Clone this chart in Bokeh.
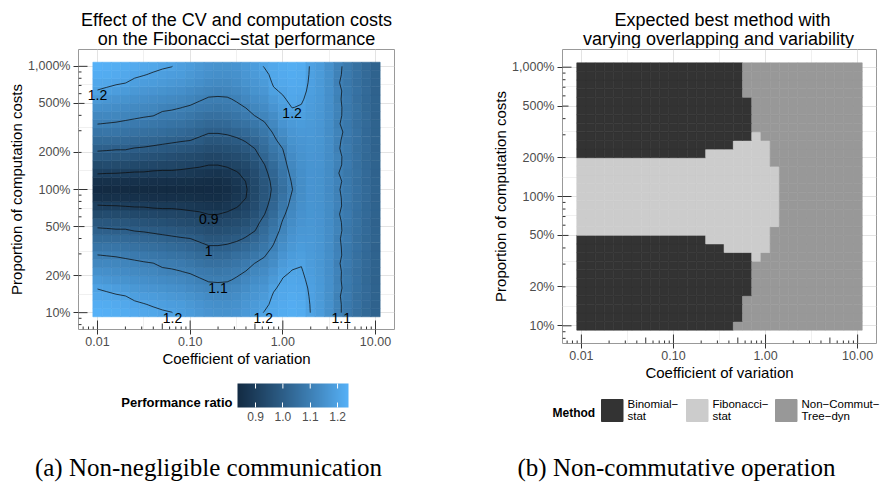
import numpy as np
import contourpy
from bokeh.plotting import figure
from bokeh.models import (Range1d, FixedTicker, NumeralTickFormatter, LinearColorMapper,
                          CategoricalColorMapper, ColorBar, ColumnDataSource, Spacer)
from bokeh.layouts import column, row
from bokeh.transform import transform
from bokeh.core.properties import value
from bokeh.embed import file_html
from bokeh.resources import INLINE

# ---------------- data ----------------
cv_log10 = [-2.0, -1.9, -1.8, -1.7, -1.6, -1.5, -1.4, -1.3, -1.2, -1.1, -1.0, -0.9, -0.8, -0.7,
            -0.6, -0.5, -0.4, -0.3, -0.2, -0.1, 0.0, 0.1, 0.2, 0.3, 0.4, 0.5, 0.6, 0.7, 0.8, 0.9, 1.0]
cost_log10 = [-1.0, -0.9333, -0.8667, -0.8, -0.7333, -0.6667, -0.6, -0.5333, -0.4667, -0.4,
              -0.3333, -0.2667, -0.2, -0.1333, -0.0667, 0.0, 0.0667, 0.1333, 0.2, 0.2667, 0.3333,
              0.4, 0.4667, 0.5333, 0.6, 0.6667, 0.7333, 0.8, 0.8667, 0.9333, 1.0]

# performance ratio, rows from 10% (bottom) to 1000% (top), columns CV 0.01 -> 10
ratio_rows = [
    [1.240, 1.235, 1.230, 1.225, 1.220, 1.215, 1.210, 1.205, 1.201, 1.190, 1.180, 1.170, 1.160, 1.155, 1.155, 1.160, 1.172, 1.185, 1.202, 1.215, 1.225, 1.230, 1.225, 1.199, 1.180, 1.150, 1.108, 1.082, 1.056, 1.035, 1.015],
    [1.228, 1.225, 1.220, 1.215, 1.208, 1.202, 1.196, 1.190, 1.185, 1.180, 1.170, 1.160, 1.150, 1.145, 1.145, 1.150, 1.165, 1.175, 1.190, 1.210, 1.220, 1.226, 1.222, 1.198, 1.178, 1.150, 1.109, 1.080, 1.059, 1.034, 1.012],
    [1.215, 1.210, 1.205, 1.201, 1.190, 1.185, 1.180, 1.175, 1.170, 1.165, 1.155, 1.145, 1.135, 1.130, 1.130, 1.140, 1.155, 1.165, 1.178, 1.205, 1.215, 1.222, 1.218, 1.196, 1.176, 1.149, 1.104, 1.085, 1.054, 1.038, 1.014],
    [1.198, 1.192, 1.185, 1.178, 1.170, 1.165, 1.160, 1.155, 1.150, 1.145, 1.135, 1.125, 1.115, 1.110, 1.115, 1.125, 1.140, 1.155, 1.165, 1.195, 1.210, 1.216, 1.213, 1.194, 1.174, 1.148, 1.112, 1.081, 1.057, 1.036, 1.015],
    [1.175, 1.168, 1.160, 1.155, 1.150, 1.145, 1.140, 1.135, 1.130, 1.125, 1.115, 1.105, 1.095, 1.095, 1.095, 1.105, 1.125, 1.140, 1.150, 1.175, 1.203, 1.210, 1.208, 1.190, 1.172, 1.147, 1.107, 1.083, 1.058, 1.033, 1.013],
    [1.150, 1.145, 1.140, 1.135, 1.130, 1.125, 1.120, 1.110, 1.105, 1.101, 1.095, 1.085, 1.080, 1.075, 1.080, 1.090, 1.101, 1.120, 1.135, 1.160, 1.190, 1.202, 1.203, 1.186, 1.170, 1.146, 1.110, 1.079, 1.055, 1.035, 1.016],
    [1.125, 1.123, 1.120, 1.115, 1.110, 1.105, 1.101, 1.090, 1.090, 1.085, 1.075, 1.065, 1.055, 1.055, 1.060, 1.070, 1.085, 1.101, 1.115, 1.140, 1.175, 1.192, 1.198, 1.182, 1.168, 1.145, 1.103, 1.086, 1.060, 1.037, 1.014],
    [1.101, 1.098, 1.095, 1.090, 1.085, 1.080, 1.075, 1.070, 1.065, 1.060, 1.050, 1.040, 1.030, 1.030, 1.035, 1.050, 1.060, 1.075, 1.095, 1.125, 1.160, 1.180, 1.188, 1.178, 1.166, 1.144, 1.111, 1.080, 1.056, 1.034, 1.015],
    [1.070, 1.072, 1.070, 1.065, 1.060, 1.055, 1.050, 1.045, 1.040, 1.035, 1.025, 1.015, 1.005, 1.005, 1.010, 1.020, 1.035, 1.050, 1.075, 1.105, 1.145, 1.170, 1.180, 1.175, 1.165, 1.143, 1.108, 1.082, 1.059, 1.036, 1.013],
    [1.040, 1.040, 1.038, 1.035, 1.030, 1.025, 1.020, 1.015, 1.010, 1.005, 1.001, 0.990, 0.975, 0.975, 0.980, 0.990, 1.005, 1.025, 1.055, 1.090, 1.130, 1.160, 1.172, 1.172, 1.163, 1.142, 1.104, 1.085, 1.054, 1.033, 1.017],
    [1.010, 1.008, 1.005, 1.005, 0.998, 0.995, 0.990, 0.985, 0.980, 0.975, 0.970, 0.960, 0.950, 0.950, 0.955, 0.965, 0.980, 0.999, 1.040, 1.075, 1.115, 1.150, 1.166, 1.169, 1.162, 1.141, 1.113, 1.078, 1.057, 1.038, 1.015],
    [0.980, 0.977, 0.975, 0.975, 0.970, 0.965, 0.960, 0.955, 0.950, 0.945, 0.940, 0.935, 0.925, 0.925, 0.935, 0.945, 0.955, 0.980, 1.020, 1.060, 1.105, 1.140, 1.160, 1.166, 1.160, 1.140, 1.109, 1.081, 1.060, 1.035, 1.012],
    [0.940, 0.942, 0.940, 0.940, 0.935, 0.930, 0.928, 0.925, 0.925, 0.920, 0.915, 0.910, 0.899, 0.899, 0.910, 0.920, 0.935, 0.960, 0.998, 1.040, 1.090, 1.128, 1.153, 1.163, 1.158, 1.138, 1.102, 1.086, 1.055, 1.036, 1.014],
    [0.905, 0.902, 0.901, 0.898, 0.895, 0.895, 0.890, 0.888, 0.888, 0.885, 0.880, 0.875, 0.870, 0.865, 0.875, 0.895, 0.915, 0.945, 0.985, 1.025, 1.075, 1.118, 1.148, 1.161, 1.156, 1.137, 1.111, 1.079, 1.059, 1.034, 1.016],
    [0.855, 0.855, 0.855, 0.855, 0.855, 0.855, 0.853, 0.852, 0.852, 0.850, 0.850, 0.848, 0.845, 0.845, 0.855, 0.875, 0.899, 0.935, 0.975, 1.015, 1.065, 1.108, 1.143, 1.160, 1.155, 1.136, 1.107, 1.084, 1.056, 1.037, 1.013],
    [0.836, 0.835, 0.836, 0.835, 0.834, 0.835, 0.835, 0.834, 0.835, 0.834, 0.835, 0.834, 0.836, 0.838, 0.845, 0.865, 0.895, 0.930, 0.970, 1.010, 1.050, 1.098, 1.140, 1.160, 1.155, 1.135, 1.104, 1.080, 1.058, 1.036, 1.014],
    [0.855, 0.855, 0.855, 0.855, 0.855, 0.855, 0.853, 0.852, 0.852, 0.850, 0.850, 0.848, 0.845, 0.845, 0.855, 0.875, 0.901, 0.935, 0.975, 1.015, 1.060, 1.105, 1.142, 1.160, 1.155, 1.136, 1.110, 1.082, 1.055, 1.034, 1.016],
    [0.905, 0.902, 0.901, 0.898, 0.895, 0.895, 0.890, 0.888, 0.888, 0.885, 0.880, 0.875, 0.870, 0.865, 0.875, 0.895, 0.915, 0.945, 0.985, 1.025, 1.070, 1.115, 1.145, 1.160, 1.156, 1.137, 1.101, 1.078, 1.060, 1.038, 1.013],
    [0.940, 0.942, 0.940, 0.940, 0.935, 0.930, 0.928, 0.925, 0.925, 0.920, 0.915, 0.910, 0.901, 0.901, 0.910, 0.920, 0.935, 0.960, 0.998, 1.040, 1.080, 1.125, 1.150, 1.162, 1.158, 1.138, 1.108, 1.085, 1.056, 1.035, 1.015],
    [0.980, 0.977, 0.975, 0.975, 0.970, 0.965, 0.960, 0.955, 0.950, 0.945, 0.940, 0.935, 0.925, 0.925, 0.935, 0.945, 0.955, 0.980, 1.020, 1.060, 1.090, 1.135, 1.155, 1.165, 1.160, 1.140, 1.112, 1.080, 1.059, 1.033, 1.017],
    [1.010, 1.008, 1.005, 1.005, 0.998, 0.995, 0.990, 0.985, 0.980, 0.975, 0.970, 0.960, 0.950, 0.950, 0.955, 0.965, 0.980, 1.001, 1.040, 1.075, 1.101, 1.145, 1.160, 1.168, 1.162, 1.141, 1.103, 1.083, 1.054, 1.037, 1.012],
    [1.040, 1.040, 1.038, 1.035, 1.030, 1.025, 1.020, 1.015, 1.010, 1.005, 1.001, 0.990, 0.975, 0.975, 0.980, 0.990, 1.005, 1.025, 1.055, 1.090, 1.120, 1.155, 1.165, 1.170, 1.163, 1.142, 1.108, 1.079, 1.058, 1.035, 1.015],
    [1.070, 1.072, 1.070, 1.065, 1.060, 1.055, 1.050, 1.045, 1.040, 1.035, 1.025, 1.015, 1.005, 1.005, 1.010, 1.020, 1.035, 1.050, 1.075, 1.105, 1.140, 1.165, 1.172, 1.172, 1.165, 1.143, 1.113, 1.086, 1.061, 1.034, 1.016],
    [1.101, 1.098, 1.095, 1.090, 1.085, 1.080, 1.075, 1.070, 1.065, 1.060, 1.050, 1.040, 1.030, 1.030, 1.035, 1.050, 1.060, 1.075, 1.095, 1.125, 1.160, 1.175, 1.180, 1.175, 1.166, 1.144, 1.104, 1.081, 1.055, 1.038, 1.014],
    [1.125, 1.123, 1.120, 1.115, 1.110, 1.105, 1.101, 1.090, 1.090, 1.085, 1.075, 1.065, 1.055, 1.055, 1.060, 1.070, 1.085, 1.101, 1.115, 1.140, 1.170, 1.185, 1.188, 1.178, 1.168, 1.145, 1.109, 1.084, 1.057, 1.036, 1.013],
    [1.150, 1.145, 1.140, 1.135, 1.130, 1.125, 1.120, 1.110, 1.105, 1.101, 1.095, 1.085, 1.080, 1.075, 1.080, 1.090, 1.101, 1.120, 1.135, 1.160, 1.180, 1.201, 1.197, 1.182, 1.170, 1.146, 1.112, 1.080, 1.060, 1.033, 1.016],
    [1.175, 1.168, 1.160, 1.155, 1.150, 1.145, 1.140, 1.135, 1.130, 1.125, 1.115, 1.105, 1.095, 1.095, 1.095, 1.105, 1.125, 1.140, 1.150, 1.175, 1.195, 1.210, 1.205, 1.186, 1.172, 1.147, 1.106, 1.085, 1.056, 1.035, 1.015],
    [1.198, 1.192, 1.185, 1.178, 1.170, 1.165, 1.160, 1.155, 1.150, 1.145, 1.135, 1.125, 1.115, 1.110, 1.115, 1.125, 1.140, 1.155, 1.165, 1.195, 1.205, 1.215, 1.212, 1.190, 1.174, 1.148, 1.110, 1.082, 1.058, 1.037, 1.012],
    [1.215, 1.210, 1.205, 1.201, 1.190, 1.185, 1.180, 1.175, 1.170, 1.165, 1.155, 1.145, 1.135, 1.130, 1.130, 1.140, 1.155, 1.165, 1.178, 1.205, 1.215, 1.220, 1.218, 1.193, 1.176, 1.149, 1.103, 1.079, 1.055, 1.034, 1.015],
    [1.228, 1.225, 1.220, 1.215, 1.208, 1.202, 1.196, 1.190, 1.185, 1.180, 1.170, 1.160, 1.150, 1.145, 1.145, 1.150, 1.165, 1.175, 1.190, 1.210, 1.220, 1.225, 1.222, 1.195, 1.178, 1.150, 1.108, 1.083, 1.059, 1.036, 1.014],
    [1.240, 1.235, 1.230, 1.225, 1.220, 1.215, 1.210, 1.205, 1.201, 1.190, 1.180, 1.170, 1.160, 1.155, 1.155, 1.160, 1.172, 1.185, 1.202, 1.215, 1.225, 1.230, 1.225, 1.196, 1.180, 1.150, 1.110, 1.084, 1.057, 1.035, 1.016],
]
contour_levels = [0.9, 1.0, 1.1, 1.2]

methods = ["Binomial−stat", "Fibonacci−stat", "Non−Commut−Tree−dyn"]
method_legend_lines = [["Binomial−", "stat"], ["Fibonacci−", "stat"], ["Non−Commut−", "Tree−dyn"]]
method_colors = ["#333333", "#CCCCCC", "#989898"]
# per row (10% bottom -> 1000% top): number of CV columns won by each method, from the left
binomial_cols = [17, 18, 18, 18, 19, 19, 19, 19, 19, 16, 14, 0, 0, 0, 0, 0, 0, 0, 0, 0,
                 14, 17, 19, 19, 19, 19, 19, 18, 18, 18, 18]
fibonacci_cols = [0, 0, 0, 0, 0, 0, 0, 0, 1, 5, 7, 21, 22, 22, 22, 22, 22, 22, 22, 21,
                  7, 4, 1, 0, 0, 0, 0, 0, 0, 0, 0]

x_breaks = [0.01, 0.1, 1, 10]
y_breaks = [0.1, 0.2, 0.5, 1, 2, 5, 10]
colorbar_breaks = [0.9, 1.0, 1.1, 1.2]

title_a = ["Effect of the CV and computation costs", "on the Fibonacci−stat performance"]
title_b = ["Expected best method with", "varying overlapping and variability"]
caption_a = "(a) Non-negligible communication"
caption_b = "(b) Non-commutative operation"

SANS = "Liberation Sans"
SERIF = "Liberation Serif"

# ---------------- helpers ----------------
M = np.array([[0.4124564, 0.3575761, 0.1804375],
              [0.2126729, 0.7151522, 0.0721750],
              [0.0193339, 0.1191920, 0.9503041]])
WHITE = np.array([0.95047, 1.0, 1.08883])


def hex2lab(h):
    rgb = np.array([int(h[i:i + 2], 16) for i in (1, 3, 5)]) / 255.0
    lin = np.where(rgb <= 0.04045, rgb / 12.92, ((rgb + 0.055) / 1.055) ** 2.4)
    xyz = (M @ lin) / WHITE
    f = np.where(xyz > 0.008856, np.cbrt(xyz), 7.787 * xyz + 16 / 116)
    return np.array([116 * f[1] - 16, 500 * (f[0] - f[1]), 200 * (f[1] - f[2])])


def lab2hex(lab):
    L, a, b = lab
    fy = (L + 16) / 116
    f = np.array([fy + a / 500, fy, fy - b / 200])
    xyz = np.where(f ** 3 > 0.008856, f ** 3, (f - 16 / 116) / 7.787) * WHITE
    lin = np.linalg.inv(M) @ xyz
    lin = np.clip(lin, 0, None)
    rgb = np.where(lin <= 0.0031308, 12.92 * lin, 1.055 * lin ** (1 / 2.4) - 0.055)
    rgb = np.clip(np.round(rgb * 255), 0, 255).astype(int)
    return "#%02x%02x%02x" % tuple(rgb)


lab_lo, lab_hi = hex2lab("#132B43"), hex2lab("#56B1F7")
palette = [lab2hex(lab_lo + (lab_hi - lab_lo) * t) for t in np.linspace(0, 1, 256)]

U = np.array(cv_log10)
V = np.array(cost_log10)
Z = np.array(ratio_rows)
du = (U[1] - U[0]) / 2
dv = (V[-1] - V[0]) / (len(V) - 1) / 2
UU, VV = np.meshgrid(U, V)

# ggplot-like 5% expansion of the tile extent (log space)
ux0, ux1 = U[0] - du, U[-1] + du
vy0, vy1 = V[0] - dv, V[-1] + dv
ex = 0.05 * (ux1 - ux0)
ey = 0.05 * (vy1 - vy0)
XR = (10 ** (ux0 - ex), 10 ** (ux1 + ex))
YR = (10 ** (vy0 - ey), 10 ** (vy1 + ey))

ZLOW, ZHIGH = float(Z.min()), float(Z.max())
mapper = LinearColorMapper(palette=palette, low=ZLOW, high=ZHIGH)


def mids(breaks):
    l = np.log10(breaks)
    return [float(10 ** ((a + b) / 2)) for a, b in zip(l[:-1], l[1:])]


def style_main(p, fw, fh):
    xt = FixedTicker(ticks=x_breaks, minor_ticks=mids(x_breaks))
    yt = FixedTicker(ticks=y_breaks, minor_ticks=mids(y_breaks))
    p.xaxis.ticker = xt
    p.yaxis.ticker = yt
    p.xgrid.ticker = xt
    p.ygrid.ticker = yt
    p.xaxis.formatter = NumeralTickFormatter(format="0.00")
    p.yaxis.formatter = NumeralTickFormatter(format="0,0%")
    p.xaxis.axis_label = "Coefficient of variation"
    p.yaxis.axis_label = "Proportion of computation costs"
    p.axis.major_tick_out = 5
    p.axis.major_tick_in = 0
    p.axis.minor_tick_out = 0
    p.axis.minor_tick_in = 0
    p.axis.axis_line_color = None
    p.axis.major_tick_line_color = "#333333"
    p.axis.major_label_text_font = SANS
    p.axis.major_label_text_font_size = "12.5px"
    p.axis.major_label_text_color = "#4d4d4d"
    p.axis.axis_label_text_font = SANS
    p.axis.axis_label_text_font_size = "15px"
    p.axis.axis_label_text_font_style = "normal"
    p.axis.axis_label_text_color = "black"
    p.xaxis.major_label_standoff = 2
    p.xaxis.axis_label_standoff = 1
    p.yaxis.major_label_standoff = 3
    p.yaxis.axis_label_standoff = 0
    p.outline_line_color = "#999999"
    p.grid.grid_line_color = "#E3E3E3"
    p.grid.minor_grid_line_color = "#F0F0F0"
    p.background_fill_color = "white"
    p.border_fill_color = "white"
    # annotation_logticks (bottom and left, inside the panel)
    lx0, lx1 = np.log10(XR)
    ly0, ly1 = np.log10(YR)
    pxx = fw / (lx1 - lx0)
    pxy = fh / (ly1 - ly0)
    xs0, ys0, xs1, ys1 = [], [], [], []
    for e in range(-4, 3):
        for m in range(1, 10):
            t = m * 10.0 ** e
            L = 9 if m == 1 else (6 if m == 5 else 3)
            lt = np.log10(t)
            if lx0 <= lt <= lx1:
                xs0.append(t); xs1.append(t)
                ys0.append(10 ** ly0); ys1.append(10 ** (ly0 + L / pxy))
            if ly0 <= lt <= ly1:
                ys0.append(t); ys1.append(t)
                xs0.append(10 ** lx0); xs1.append(10 ** (lx0 + L / pxx))
    p.segment(x0=xs0, y0=ys0, x1=xs1, y1=ys1, line_color="#333333", line_width=1)


def tiles_source(extra):
    d = dict(left=(10 ** (UU - du)).ravel(), right=(10 ** (UU + du)).ravel(),
             bottom=(10 ** (VV - dv)).ravel(), top=(10 ** (VV + dv)).ravel())
    d.update(extra)
    return ColumnDataSource(d)


PAGE_W = 887

# ---------------- top (titles) ----------------
pT = figure(width=PAGE_W, height=48, x_range=Range1d(0, PAGE_W), y_range=Range1d(48, 0),
            x_axis_location=None, y_axis_location=None, toolbar_location=None,
            output_backend="svg", min_border=0, outline_line_color=None)
pT.grid.visible = False
pT.text(x=[236, 236, 722, 718], y=[19.9, 38.6, 19.9, 38.6],
        text=[title_a[0], title_a[1], title_b[0], title_b[1]],
        text_font=value(SANS), text_font_size=value("18px"), text_color="black",
        text_align="center", text_baseline="middle")

# ---------------- left main ----------------
FWL, FHL = 316, 280
pL = figure(width=478, height=321, x_axis_type="log", y_axis_type="log",
            x_range=Range1d(*XR), y_range=Range1d(*YR), title=None,
            toolbar_location=None, output_backend="svg",
            min_border_left=78, min_border_right=84, min_border_top=1, min_border_bottom=40)
style_main(pL, FWL, FHL)
srcL = tiles_source(dict(z=Z.ravel()))
pL.quad(left="left", right="right", bottom="bottom", top="top", source=srcL,
        fill_color=transform("z", mapper), line_color=transform("z", mapper), line_width=0.6)

gen = contourpy.contour_generator(x=UU, y=VV, z=Z, line_type="Separate")
cxs, cys, lx, ly, lt = [], [], [], [], []
for lev in contour_levels:
    for seg in gen.lines(lev):
        if len(seg) < 2:
            continue
        cxs.append(list(10 ** seg[:, 0]))
        cys.append(list(10 ** seg[:, 1]))
        vmin = seg[:, 1].min()
        cand = np.where(seg[:, 1] <= vmin + 1e-9)[0]
        k = cand[np.argmin(seg[cand, 0])]
        lx.append(10 ** seg[k, 0]); ly.append(10 ** seg[k, 1]); lt.append(f"{lev:g}")
pL.multi_line(xs=cxs, ys=cys, line_color="#0d0d0d", line_alpha=0.75, line_width=1)
pL.text(x=lx, y=ly, text=lt, text_font=value(SANS), text_font_size=value("14px"),
        text_color="black", text_align="center", text_baseline="top")

# ---------------- right main ----------------
FWR, FHR = 314, 294
pR = figure(width=409, height=335, x_axis_type="log", y_axis_type="log",
            x_range=Range1d(*XR), y_range=Range1d(*YR), title=None,
            toolbar_location=None, output_backend="svg",
            min_border_left=84, min_border_right=11, min_border_top=1, min_border_bottom=40)
style_main(pR, FWR, FHR)
ncols = len(cv_log10)
grid_methods = []
for nb, nf in zip(binomial_cols, fibonacci_cols):
    grid_methods += [methods[0]] * nb + [methods[1]] * nf + [methods[2]] * (ncols - nb - nf)
cmap = CategoricalColorMapper(factors=methods, palette=method_colors)
srcR = tiles_source(dict(method=grid_methods))
pR.quad(left="left", right="right", bottom="bottom", top="top", source=srcR,
        fill_color=transform("method", cmap), line_color=transform("method", cmap), line_width=0.6)

# ---------------- bottom (legends + captions) ----------------
pB = figure(width=PAGE_W, height=100, x_range=Range1d(0, PAGE_W), y_range=Range1d(483, 383),
            x_axis_location=None, y_axis_location=None, toolbar_location=None,
            output_backend="svg", min_border=0, outline_line_color=None)
pB.grid.visible = False
pB.text(x=[232], y=[402], text=["Performance ratio"], text_font=value(SANS),
        text_font_size=value("13px"), text_font_style="bold", text_color="black",
        text_align="right", text_baseline="middle")
CB_LEFT, CB_W, CB_TOP, CB_H = 237, 111, 383, 24
cb = ColorBar(color_mapper=mapper, orientation="horizontal", location=(CB_LEFT, 60),
              width=CB_W, height=CB_H, padding=0, label_standoff=4,
              ticker=FixedTicker(ticks=colorbar_breaks),
              formatter=NumeralTickFormatter(format="0.0"),
              major_label_text_font=SANS, major_label_text_font_size="12px",
              major_label_text_color="#4d4d4d",
              major_tick_line_color="white", major_tick_in=5, major_tick_out=0,
              minor_tick_line_color=None, bar_line_color=None, border_line_color=None,
              background_fill_alpha=0)
pB.add_layout(cb)
# white tick marks on the upper edge of the colour bar (ggplot draws them on both edges)
tick_x = [CB_LEFT + (t - ZLOW) / (ZHIGH - ZLOW) * CB_W for t in colorbar_breaks]
pB.segment(x0=tick_x, x1=tick_x, y0=[CB_TOP] * len(tick_x), y1=[CB_TOP + 5] * len(tick_x),
           line_color="white", line_width=1, level="overlay")

pB.text(x=[552], y=[412], text=["Method"], text_font=value(SANS),
        text_font_size=value("12px"), text_font_style="bold", text_color="black",
        text_align="left", text_baseline="middle")
sw_left = [601, 686, 775]
pB.quad(left=sw_left, right=[s + 21.5 for s in sw_left], top=[399] * 3, bottom=[421] * 3,
        fill_color=method_colors, line_color=method_colors)
tx, ty, tt = [], [], []
for s, lines in zip(sw_left, method_legend_lines):
    for i, ln in enumerate(lines):
        tx.append(s + 26); ty.append(403.5 + 12 * i); tt.append(ln)
pB.text(x=tx, y=ty, text=tt, text_font=value(SANS), text_font_size=value("11.5px"),
        text_color="black", text_align="left", text_baseline="middle")

pB.text(x=[208, 676], y=[467, 467], text=[caption_a, caption_b], text_font=value(SERIF),
        text_font_size=value("25px"), text_color="black", text_align="center",
        text_baseline="middle")

left_col = column(pL, Spacer(width=478, height=14))
layout = column(pT, row(left_col, pR), pB)
open("out.html", "w").write(file_html(layout, INLINE))
